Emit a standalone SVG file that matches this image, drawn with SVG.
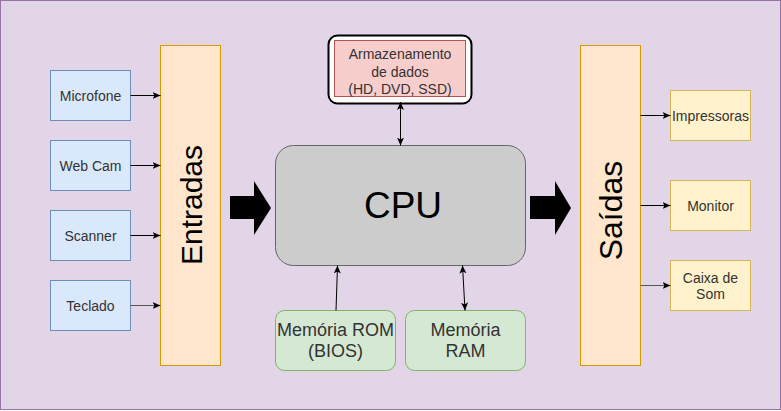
<svg xmlns="http://www.w3.org/2000/svg" width="781" height="411" viewBox="0 0 781 411">
<defs>
<marker id="arr" markerUnits="userSpaceOnUse" markerWidth="9" markerHeight="8" refX="8" refY="3.5" orient="auto-start-reverse" viewBox="0 0 9 8">
<path d="M0,0 L8,3.5 L0,7 L2,3.5 z" fill="#000"/>
</marker>
<style>
.t{font-family:"Liberation Sans",Arial,sans-serif;text-anchor:middle;fill:#333}
.s{font-size:14px}
.in{fill:#dae8fc;stroke:#6c8ebf;stroke-width:1}
.out{fill:#fff2cc;stroke:#d6b656;stroke-width:1}
.col{fill:#ffe6cc;stroke:#d79b00;stroke-width:1}
.mem{fill:#d5e8d4;stroke:#82b366;stroke-width:1}
.c{fill:none;stroke:#000;stroke-width:1;marker-end:url(#arr)}
.cg{stroke:#555}
.d{marker-start:url(#arr)}
</style>
</defs>
<rect x="0.5" y="0.5" width="780" height="409" fill="#e1d5e7" stroke="#9673a6" stroke-width="1"/>

<g id="microfone"><rect class="in" x="50.5" y="70.5" width="80" height="50"/><text class="t s" x="90.5" y="100.5">Microfone</text></g>
<g id="webcam"><rect class="in" x="50.5" y="140.5" width="80" height="50"/><text class="t s" x="90.5" y="170.5">Web Cam</text></g>
<g id="scanner"><rect class="in" x="50.5" y="210.5" width="80" height="50"/><text class="t s" x="90.5" y="240.5">Scanner</text></g>
<g id="teclado"><rect class="in" x="50.5" y="280.5" width="80" height="50"/><text class="t s" x="90.5" y="310.5">Teclado</text></g>

<g id="entradas"><rect class="col" x="160.5" y="45.5" width="60" height="320"/><text class="t" style="font-size:30px;fill:#000" transform="translate(201.5,205) rotate(-90)">Entradas</text></g>
<g id="saidas"><rect class="col" x="580.5" y="45.5" width="60" height="320"/><text class="t" style="font-size:32px;fill:#000" transform="translate(621.5,210.5) rotate(-90)">Saídas</text></g>

<g id="impressoras"><rect class="out" x="670.5" y="90.5" width="80" height="50"/><text class="t s" x="710.5" y="120.5">Impressoras</text></g>
<g id="monitor"><rect class="out" x="670.5" y="180.5" width="80" height="50"/><text class="t s" x="710.5" y="210.5">Monitor</text></g>
<g id="caixa"><rect class="out" x="670.5" y="260.5" width="80" height="50"/><text class="t s" x="710.5" y="282.5">Caixa de</text><text class="t s" x="710.5" y="299">Som</text></g>

<g id="cpu"><rect x="275.5" y="145.5" width="250" height="120" rx="18" fill="#cccccc" stroke="#666666" stroke-width="1"/><text class="t" style="font-size:37px;fill:#000" x="403" y="218">CPU</text></g>

<g id="armazenamento"><rect x="328.5" y="35.5" width="143" height="68" rx="9" fill="#ffffff" stroke="#000" stroke-width="2"/><rect x="334.5" y="40.5" width="131" height="56" fill="#f8cecc" stroke="#b85450" stroke-width="1"/><text class="t s" x="400" y="59">Armazenamento</text><text class="t s" x="400" y="76.5">de dados</text><text class="t s" x="400" y="93.5">(HD, DVD, SSD)</text></g>

<g id="rom"><rect class="mem" x="275.5" y="310.5" width="120" height="60" rx="9"/><text class="t" style="font-size:18px" x="335.5" y="335.5">Memória ROM</text><text class="t" style="font-size:18px" x="335.5" y="357">(BIOS)</text></g>
<g id="ram"><rect class="mem" x="405.5" y="310.5" width="120" height="60" rx="9"/><text class="t" style="font-size:18px" x="465.5" y="335.5">Memória</text><text class="t" style="font-size:18px" x="465.5" y="357">RAM</text></g>

<g id="connectors">
<line class="c" x1="130.5" y1="95.5" x2="160.5" y2="95.5"/>
<line class="c" x1="130.5" y1="165.5" x2="160.5" y2="165.5"/>
<line class="c" x1="130.5" y1="235.5" x2="160.5" y2="235.5"/>
<line class="c cg" x1="130.5" y1="305.5" x2="160.5" y2="305.5"/>
<line class="c" x1="640.5" y1="115.5" x2="670.5" y2="115.5"/>
<line class="c" x1="640.5" y1="205.5" x2="670.5" y2="205.5"/>
<line class="c cg" x1="640.5" y1="285.5" x2="670.5" y2="285.5"/>
<line class="c d" x1="400.5" y1="102" x2="400.5" y2="145.5"/>
<line class="c" x1="336" y1="310.5" x2="337.5" y2="265.5"/>
<line class="c d" x1="462.5" y1="265.5" x2="465" y2="310.5"/>
<polygon points="230,196 254,196 254,181 271,208 254,235 254,219 230,219" fill="#000"/>
<polygon points="530,196 555,196 555,181 571,208 555,235 555,219 530,219" fill="#000"/>
</g>
</svg>
